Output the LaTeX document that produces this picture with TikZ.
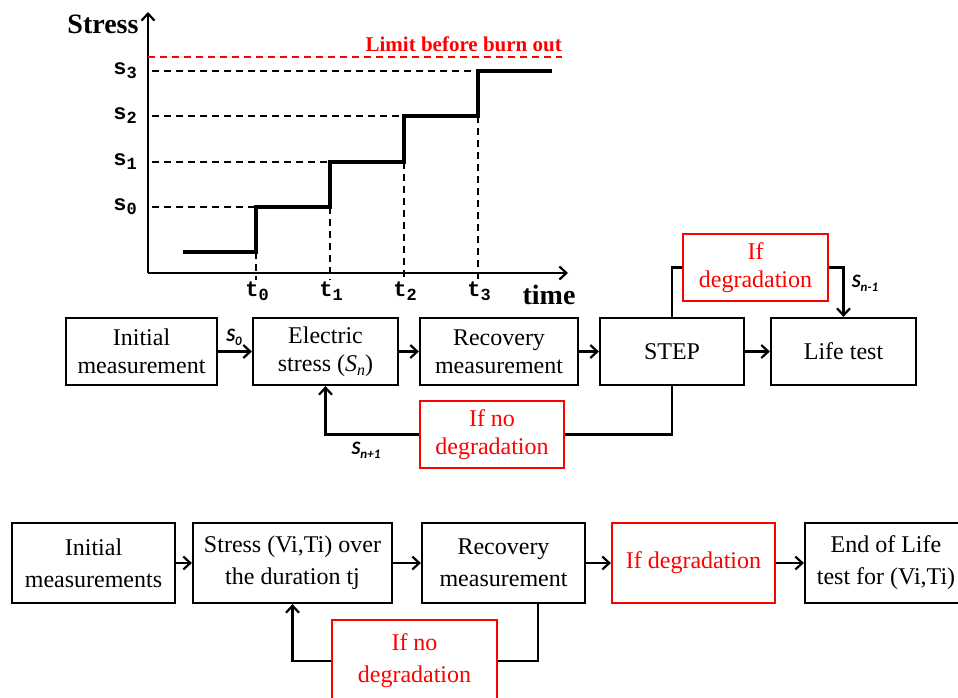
\documentclass[tikz,border=0pt]{standalone}
\usepackage{fontspec}
\setmainfont{Liberation Serif}
\newfontfamily\calfont{Carlito}
\newfontfamily\chartfont{Liberation Mono}
\usetikzlibrary{arrows.meta}
\definecolor{pred}{RGB}{255,0,0}
\tikzset{
  box/.style={draw=black, line width=2.2pt, inner sep=0pt, align=center, minimum height=67pt, font=\fontsize{24}{28}\selectfont},
  rbox/.style={box, draw=pred, text=pred},
  box2/.style={draw=black, line width=2.2pt, inner sep=0pt, align=center, minimum height=80pt, font=\fontsize{24}{32}\selectfont},
  rbox2/.style={box2, draw=pred, text=pred},
  arr/.style={line width=2.2pt, -{Straight Barb[length=7pt,width=13pt,line width=2.2pt]}},
  conn/.style={line width=2.2pt},
  dsh/.style={line width=2.2pt, dash pattern=on 7pt off 5pt},
  stepline/.style={line width=3.2pt},
  slab/.style={font=\calfont\bfseries\itshape\fontsize{19}{19}\selectfont, inner sep=0pt},
  clab/.style={font=\chartfont\bfseries\fontsize{22}{22}\selectfont, inner sep=0pt},
}
\newcommand{\lowsub}[2]{#1\raisebox{-4pt}{\fontsize{17}{17}\selectfont #2}}
\begin{document}
\begin{tikzpicture}[x=1pt,y=-1pt]
\useasboundingbox (0,0) rectangle (958,697);
% ---------- stress chart ----------
\coordinate (O) at (148,273);
\coordinate (ytop) at (148,12);
\coordinate (xend) at (568,273);
\draw[arr] (O) -- (ytop);
\draw[arr] (O) -- (xend);
\node[font=\bfseries\fontsize{28}{28}\selectfont, inner sep=0pt] (stresslab) at (103,24) {Stress};
\node[font=\bfseries\fontsize{28}{28}\selectfont, inner sep=0pt] (timelab) at (549,295) {time};
\draw[dsh, pred] (148,57) -- (562,57);
\node[font=\bfseries\fontsize{21}{21}\selectfont, text=pred, inner sep=0pt, anchor=east] (limlab) at (562,44) {Limit before burn out};
% dashed guides
\draw[dsh] (152,207) -- (256,207);
\draw[dsh] (152,162) -- (330,162);
\draw[dsh] (152,116) -- (404,116);
\draw[dsh] (152,71) -- (478,71);
\draw[dsh] (256,252) -- (256,280);
\draw[dsh] (330,207) -- (330,280);
\draw[dsh] (404,162) -- (404,280);
\draw[dsh] (478,116) -- (478,280);
% step line
\draw[stepline] (183,252) -- (256,252) -- (256,207) -- (330,207) -- (330,162) -- (404,162) -- (404,116) -- (478,116) -- (478,71) -- (552,71);
% level labels
\node[clab] (s0) at (125,207) {\lowsub{s}{0}};
\node[clab] (s1) at (125,162) {\lowsub{s}{1}};
\node[clab] (s2) at (125,116) {\lowsub{s}{2}};
\node[clab] (s3) at (125,71) {\lowsub{s}{3}};
\node[clab] (t0) at (257,291) {\lowsub{t}{0}};
\node[clab] (t1) at (331,291) {\lowsub{t}{1}};
\node[clab] (t2) at (405,291) {\lowsub{t}{2}};
\node[clab] (t3) at (479,291) {\lowsub{t}{3}};
% ---------- flowchart 1 ----------
\node[box, minimum width=151pt] (init1) at (141.5,351.5) {Initial\\measurement};
\node[box, minimum width=145pt] (elec) at (325.5,351.5) {Electric\\stress (\textit{S}\raisebox{-4pt}{\fontsize{16}{16}\selectfont\itshape n})};
\node[box, minimum width=158pt] (rec1) at (499,351.5) {Recovery\\measurement};
\node[box, minimum width=144pt] (step1) at (672,351.5) {STEP};
\node[box, minimum width=145pt] (life) at (843.5,351.5) {Life test};
\node[rbox, minimum width=145pt] (deg1) at (755.5,267.5) {If\\degradation};
\node[rbox, minimum width=144pt] (nodeg1) at (492,434.5) {If no\\degradation};
\draw[arr] (init1) -- (elec);
\draw[arr] (elec) -- (rec1);
\draw[arr] (rec1) -- (step1);
\draw[arr] (step1) -- (life);
\draw[conn] (step1.north) |- (deg1.west);
\draw[arr] (deg1.east) -| (life.north);
\draw[conn] (step1.south) |- (nodeg1.east);
\draw[arr] (nodeg1.west) -| (elec.south);
\node[slab] (S0) at (234,337) {S\raisebox{-4pt}{\fontsize{13}{13}\selectfont 0}};
\node[slab] (Snp) at (366,450) {S\raisebox{-4pt}{\fontsize{13}{13}\selectfont n+1}};
\node[slab] (Snm) at (865,283) {S\raisebox{-4pt}{\fontsize{13}{13}\selectfont n-1}};
% ---------- flowchart 2 ----------
\node[box2, minimum width=163pt] (init2) at (93.5,563) {Initial\\measurements};
\node[box2, minimum width=199pt] (stress2) at (292.5,563) {Stress (Vi,Ti) over\\the duration tj};
\node[box2, minimum width=163pt] (rec2) at (503.5,563) {Recovery\\measurement};
\node[rbox2, minimum width=163pt] (deg2) at (693.5,563) {If degradation};
\node[box2, minimum width=162pt] (end2) at (886,563) {End of Life\\test for (Vi,Ti)};
\node[rbox2, minimum width=165pt, minimum height=82pt] (nodeg2) at (414.5,661) {If no\\degradation};
\coordinate (r2) at (538,603);
\draw[arr] (init2) -- (stress2);
\draw[arr] (stress2) -- (rec2);
\draw[arr] (rec2) -- (deg2);
\draw[arr] (deg2) -- (end2);
\draw[conn] (r2) |- (nodeg2.east);
\draw[arr] (nodeg2.west) -| (stress2.south);
\end{tikzpicture}
\end{document}
